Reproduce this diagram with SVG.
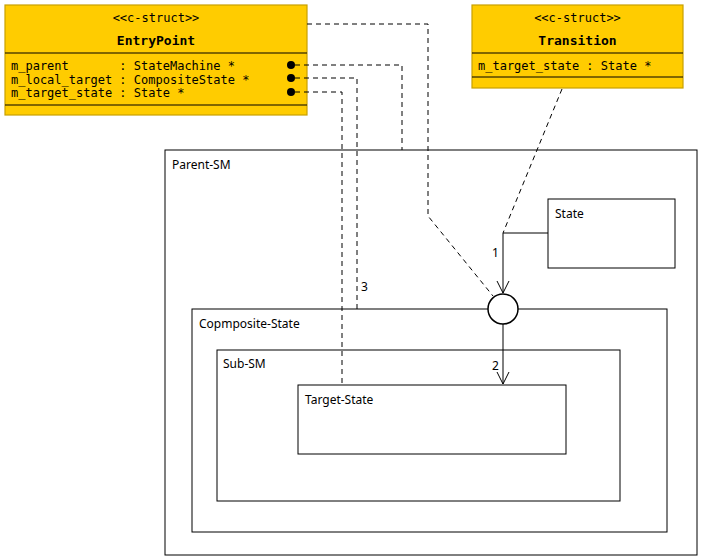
<svg xmlns="http://www.w3.org/2000/svg" width="703" height="560" viewBox="0 0 703 560">
<style>
.box{fill:#FFFFFF;stroke:#000;stroke-width:1}
.cls{fill:#FFCC00;stroke:#C8A000;stroke-width:1.2}
.sep{stroke:#000;stroke-width:1}
.lbl{font-family:"Noto Sans",sans-serif;font-size:12px;fill:#000}
.mono{font-family:"DejaVu Sans Mono",monospace;font-size:12px;fill:#000}
.title{font-family:"DejaVu Sans Mono",monospace;font-size:13px;font-weight:bold;fill:#000}
.dash{fill:none;stroke:#000;stroke-width:1;stroke-dasharray:5,4}
.solid{fill:none;stroke:#000;stroke-width:1}
</style>
<rect width="703" height="560" fill="#FFFFFF"/>
<g id="parent-sm">
<rect class="box" x="165" y="150" width="532" height="405"/>
<text class="lbl" x="172" y="169">Parent-SM</text>
</g>
<g id="state">
<rect class="box" x="548" y="199" width="127" height="69"/>
<text class="lbl" x="555" y="218">State</text>
</g>
<g id="composite-state">
<rect class="box" x="192" y="309" width="475" height="223"/>
<text class="lbl" x="199" y="328">Copmposite-State</text>
</g>
<g id="sub-sm">
<rect class="box" x="217" y="350" width="403" height="151"/>
<text class="lbl" x="223" y="368">Sub-SM</text>
</g>
<g id="target-state">
<rect class="box" x="298" y="385" width="268" height="69"/>
<text class="lbl" x="305" y="404">Target-State</text>
</g>
<g id="entrypoint">
<rect class="cls" x="5" y="5" width="302" height="110"/>
<line class="sep" x1="5" y1="53" x2="307" y2="53"/>
<line class="sep" x1="5" y1="105" x2="307" y2="105"/>
<text class="mono" x="156" y="22" text-anchor="middle">&lt;&lt;c-struct&gt;&gt;</text>
<text class="title" x="156" y="45" text-anchor="middle">EntryPoint</text>
<text class="mono" x="11" y="70" xml:space="preserve">m_parent       : StateMachine *</text>
<text class="mono" x="11" y="83.5" xml:space="preserve">m_local_target : CompositeState *</text>
<text class="mono" x="11" y="97" xml:space="preserve">m_target_state : State *</text>
</g>
<g id="transition">
<rect class="cls" x="472" y="5" width="211" height="83"/>
<line class="sep" x1="472" y1="53" x2="683" y2="53"/>
<line class="sep" x1="472" y1="77" x2="683" y2="77"/>
<text class="mono" x="577.5" y="22" text-anchor="middle">&lt;&lt;c-struct&gt;&gt;</text>
<text class="title" x="577.5" y="45" text-anchor="middle">Transition</text>
<text class="mono" x="478" y="70">m_target_state : State *</text>
</g>
<g id="entry-point-pseudostate">
<circle cx="503" cy="309" r="15" fill="#FFFFFF" stroke="#000" stroke-width="1.5"/>
</g>
<g id="connectors">
<polyline class="dash" points="307,24 428,24 428,216 493,296"/>
<polyline class="dash" points="295,65 402,65 402,150"/>
<polyline class="dash" points="295,78 357,78 357,309"/>
<polyline class="dash" points="295,92 342,92 342,385"/>
<line class="dash" x1="562" y1="89" x2="503" y2="233"/>
<polyline class="solid" points="548,233 503,233 503,293"/>
<polyline class="solid" points="497,281 503,293 509,281"/>
<line class="solid" x1="503" y1="324" x2="503" y2="384"/>
<polyline class="solid" points="497,372 503,384 509,372"/>
<circle cx="291" cy="65" r="4" fill="#000"/>
<circle cx="291" cy="78" r="4" fill="#000"/>
<circle cx="291" cy="92" r="4" fill="#000"/>
<text class="lbl" x="492" y="257">1</text>
<text class="lbl" x="492" y="370">2</text>
<text class="lbl" x="361" y="291">3</text>
</g>
</svg>
